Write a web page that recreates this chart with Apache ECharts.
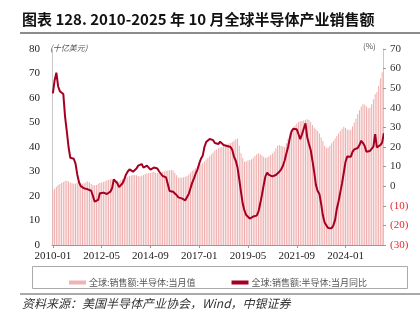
<!DOCTYPE html>
<html>
<head>
<meta charset="utf-8">
<script src="https://cdn.jsdelivr.net/npm/echarts@6/dist/echarts.min.js"></script>
<style>
html,body{margin:0;padding:0;background:#fff;}
#chart{width:420px;height:331px;}
</style>
</head>
<body>
<div id="chart"></div>
<script>
// ---- Data ----
const startYear = 2010, endYear = 2025, endMonth = 10;
const categories = [];
for (let y = startYear; y <= endYear; y++) {
  for (let m = 1; m <= 12; m++) {
    if (y === endYear && m > endMonth) break;
    categories.push(y + '-' + (m < 10 ? '0' + m : m));
  }
}
// Global semiconductor sales, monthly value (billion USD)
const sales = [
  22.3, 23.0, 23.8, 24.5, 24.9, 25.3, 25.7, 26.1, 26.2, 25.9, 25.5, 25.2, // 2010
  25.0, 25.1, 25.4, 25.3, 25.1, 25.0, 25.2, 25.6, 26.0, 25.5, 24.9, 24.5, // 2011
  24.4, 24.5, 25.0, 25.4, 25.5, 25.7, 26.0, 26.4, 26.6, 26.8, 27.0, 27.0, // 2012
  26.5, 26.2, 26.0, 26.4, 26.9, 27.3, 27.6, 27.9, 28.2, 28.4, 28.6, 28.6, // 2013
  28.5, 28.2, 28.0, 28.3, 28.6, 29.0, 29.2, 29.4, 29.5, 29.7, 29.8, 29.6, // 2014
  29.3, 29.4, 29.6, 29.9, 30.1, 30.2, 30.4, 30.5, 30.6, 30.4, 29.5, 28.5, // 2015
  27.6, 27.4, 27.5, 27.7, 27.9, 28.2, 28.8, 29.5, 30.3, 30.8, 31.4, 32.0, // 2016
  32.6, 33.0, 33.5, 34.2, 34.9, 35.5, 36.2, 37.0, 37.8, 38.6, 39.0, 39.5, // 2017
  39.8, 40.0, 40.3, 40.7, 41.0, 41.4, 41.6, 42.0, 42.6, 43.2, 43.5, 40.5, // 2018
  37.5, 35.5, 34.0, 34.2, 34.5, 34.7, 35.0, 35.6, 36.3, 37.0, 37.4, 37.0, // 2019
  36.5, 36.0, 35.5, 35.8, 36.2, 36.7, 37.3, 38.2, 39.5, 40.5, 40.8, 40.5, // 2020
  40.2, 40.0, 41.5, 43.5, 45.5, 47.0, 48.0, 48.8, 49.6, 50.2, 50.5, 50.6, // 2021
  50.8, 51.0, 51.3, 51.0, 50.2, 49.0, 48.0, 47.2, 46.5, 45.5, 44.0, 42.5, // 2022
  40.5, 39.7, 39.8, 40.5, 41.5, 42.5, 43.5, 44.5, 45.5, 46.5, 47.5, 48.3, // 2023
  47.8, 47.2, 46.8, 47.0, 48.5, 50.0, 51.5, 53.5, 55.0, 56.5, 57.5, 57.2, // 2024
  56.5, 55.8, 56.0, 57.5, 59.5, 61.5, 62.5, 65.0, 68.0, 70.5, 72.8        // 2025
];
// Year-over-year growth (%)
const yoy = [
  47.4, 54.0, 57.9, 51.0, 48.5, 49.0, 47.0, 35.5, 28.0, 20.0, 14.5, 13.5, // 2010
  14.0, 11.5, 6.0, 2.0, 0.0, -0.5, -1.1, -1.3, -1.6, -2.0, -2.3, -5.0,     // 2011
  -7.9, -8.4, -7.0, -3.6, -3.4, -3.3, -3.7, -4.0, -3.5, -2.8, -1.0, 3.5,   // 2012
  2.5, 1.5, -0.5, -1.1, 1.5, 3.5, 6.0, 7.5, 8.6, 8.0, 7.4, 8.0,            // 2013
  9.0, 10.5, 11.3, 11.3, 9.5, 10.5, 10.5, 10.0, 8.5, 8.8, 9.5, 9.2,        // 2014
  9.0, 7.5, 6.5, 5.2, 4.8, 4.5, 1.0, -2.5, -3.3, -2.8, -3.2, -4.5,         // 2015
  -5.7, -6.0, -6.2, -6.4, -7.2, -6.5, -4.0, -1.0, 1.8, 4.0, 6.5, 8.5,      // 2016
  11.5, 14.0, 15.5, 20.0, 22.5, 23.5, 24.1, 24.0, 23.5, 22.0, 21.5, 21.5,  // 2017
  22.7, 22.0, 21.0, 20.2, 20.5, 20.5, 20.0, 18.5, 15.0, 13.0, 9.5, 3.5,    // 2018
  -3.0, -9.0, -12.5, -14.7, -15.2, -16.5, -16.5, -15.5, -15.3, -15.0, -13.0, -9.0, // 2019
  -4.5, 0.5, 5.0, 6.9, 5.8, 5.5, 5.0, 5.3, 5.7, 6.5, 7.4, 8.5,             // 2020
  10.3, 13.0, 16.5, 20.0, 24.4, 28.0, 29.3, 29.5, 29.0, 26.5, 24.0, 26.5,  // 2021
  27.3, 32.1, 25.0, 21.5, 18.5, 13.0, 7.3, 0.6, -2.5, -4.0, -9.0, -15.0,   // 2022
  -18.5, -20.0, -21.3, -21.6, -21.5, -20.0, -17.2, -11.5, -7.7, -3.0, 1.5, 7.0, // 2023
  12.5, 15.2, 15.4, 15.0, 17.5, 18.8, 18.5, 19.5, 21.0, 23.2, 22.0, 20.5,  // 2024
  17.6, 17.3, 18.0, 19.0, 20.2, 26.6, 19.8, 20.3, 21.0, 22.2, 27.0         // 2025
];
const leftTicks = { min: 0, max: 80, interval: 10 };
const rightTicks = { min: -30, max: 70, interval: 10 };
const seriesNames = ['全球:销售额:半导体:当月值', '全球:销售额:半导体:当月同比'];
const titleText = '图表 128. 2010-2025 年 10 月全球半导体产业销售额';
const sourceText = '资料来源：美国半导体产业协会，Wind，中银证券';
const leftUnit = '(十亿美元)';
const rightUnit = '(%)';

// ---- Chart ----
const chart = echarts.init(document.getElementById('chart'), null, { renderer: 'canvas' });
const serif = '"Liberation Serif", "Times New Roman", serif';
const cjk = '"Noto Sans CJK SC", sans-serif';
const option = {
  animation: false,
  backgroundColor: '#fff',
  grid: { left: 52, right: 37, top: 49, bottom: 86, containLabel: false },
  legend: {
    left: 64, top: 273, itemGap: 36, itemWidth: 17, itemHeight: 4,
    textStyle: { fontFamily: cjk, fontSize: 9, color: '#555', padding: [0, 0, 0, -2] },
    data: [
      { name: seriesNames[0], icon: 'rect', itemStyle: { color: '#f0b3b3' } },
      { name: seriesNames[1], icon: 'rect', itemStyle: { color: '#a50021' } }
    ]
  },
  xAxis: {
    type: 'category', data: categories, boundaryGap: true,
    axisLine: { lineStyle: { color: '#999', width: 1 } },
    axisTick: { show: true, interval: 27, alignWithLabel: true, length: 3, lineStyle: { color: '#999' } },
    axisLabel: { interval: 27, margin: 6, fontFamily: serif, fontSize: 11, color: '#222' },
    splitLine: { show: false }
  },
  yAxis: [
    {
      type: 'value', position: 'left', min: leftTicks.min, max: leftTicks.max, interval: leftTicks.interval,
      axisLine: { show: true, lineStyle: { color: '#c8c8c8' } },
      axisTick: { show: false },
      splitLine: { show: false },
      axisLabel: { margin: 12, fontFamily: serif, fontSize: 11, color: '#222' }
    },
    {
      type: 'value', position: 'right', min: rightTicks.min, max: rightTicks.max, interval: rightTicks.interval,
      axisLine: { show: true, lineStyle: { color: '#c8c8c8' } },
      axisTick: { show: true, length: 3, lineStyle: { color: '#999' } },
      splitLine: { show: false },
      axisLabel: {
        margin: 7, fontFamily: serif, fontSize: 11, color: '#333',
        formatter: v => v < 0 ? '{neg|(' + (-v) + ')}' : String(v),
        rich: { neg: { color: '#e8262a', fontFamily: serif, fontSize: 11 } }
      }
    }
  ],
  series: [
    {
      name: seriesNames[0], type: 'bar', yAxisIndex: 0, data: sales,
      barWidth: '55%', itemStyle: { color: '#efadad' }
    },
    {
      name: seriesNames[1], type: 'line', yAxisIndex: 1, data: yoy,
      symbol: 'none', lineStyle: { color: '#a50021', width: 2 }, itemStyle: { color: '#a50021' }
    }
  ],
  graphic: [
    { type: 'text', left: 22, top: 12, style: { text: titleText, font: 'bold 15px ' + cjk, fill: '#111' } },
    { type: 'line', shape: { x1: 20, y1: 33, x2: 420, y2: 33 }, style: { stroke: '#666', lineWidth: 1.5 } },
    { type: 'text', left: 50, top: 44, style: { text: leftUnit, font: 'italic 8px ' + cjk, fill: '#555' } },
    { type: 'text', left: 363, top: 42, style: { text: rightUnit, font: '8px ' + cjk, fill: '#555' } },
    { type: 'rect', shape: { x: 32.5, y: 266.5, width: 375, height: 22 }, style: { fill: 'none', stroke: '#aaa', lineWidth: 1 } },
    { type: 'line', shape: { x1: 20, y1: 294, x2: 420, y2: 294 }, style: { stroke: '#555', lineWidth: 1 } },
    { type: 'text', left: 22, top: 297, style: { text: sourceText, font: 'italic 12px ' + cjk, fill: '#333' } }
  ]
};
chart.setOption(option);
</script>
</body>
</html>
